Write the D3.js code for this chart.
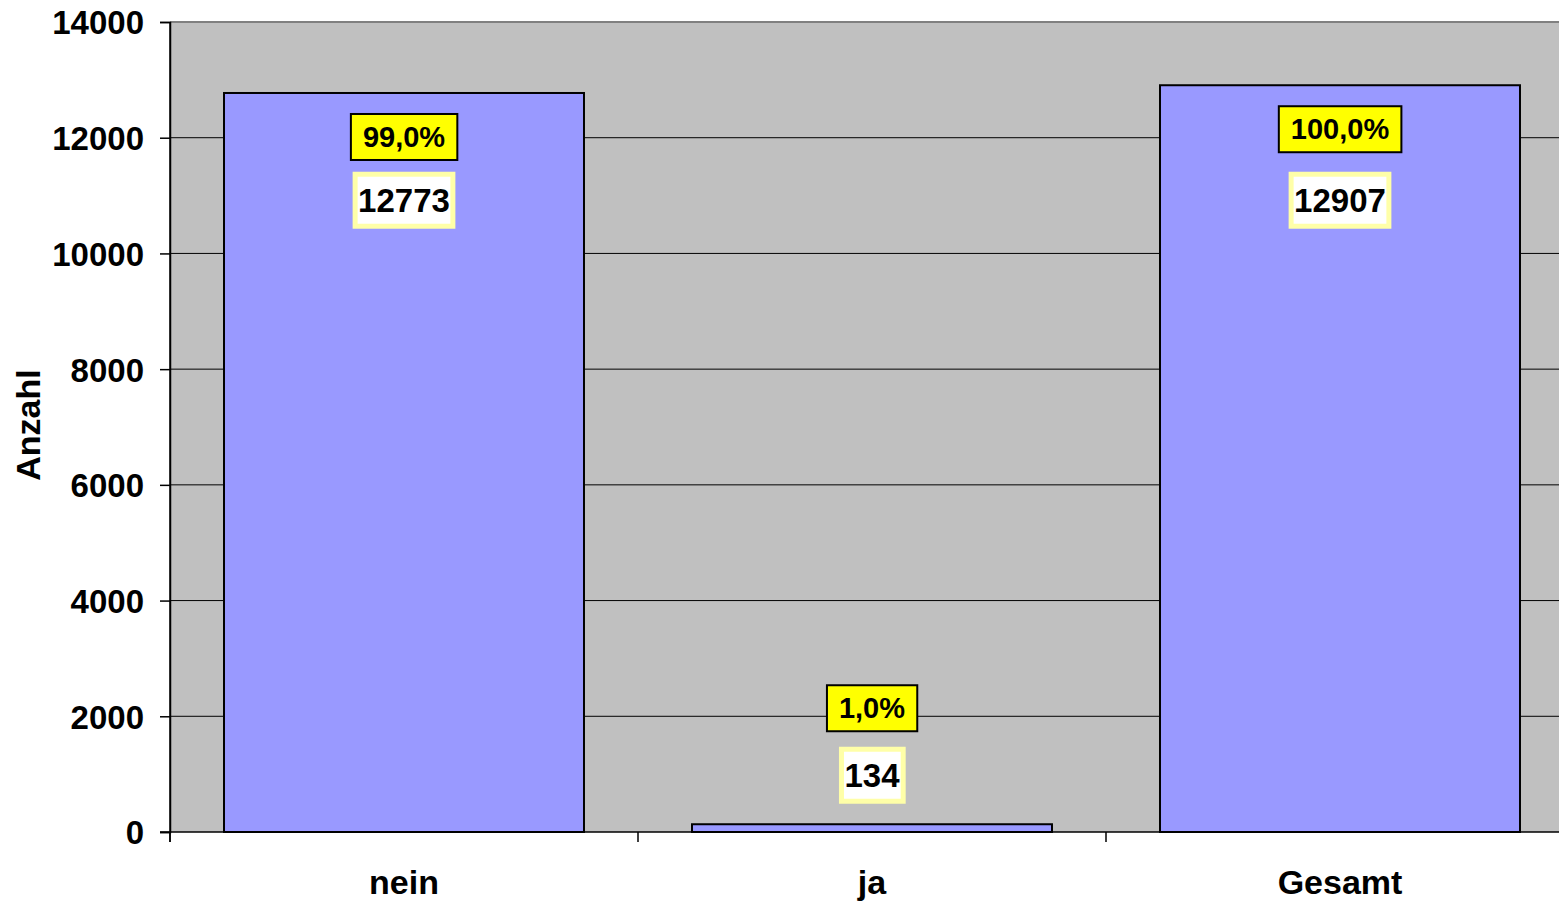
<!DOCTYPE html>
<html>
<head>
<meta charset="utf-8">
<script src="https://cdn.jsdelivr.net/npm/d3@7/dist/d3.min.js"></script>
<style>
  html, body { margin: 0; padding: 0; background: #ffffff; }
  svg { display: block; }
  text { font-family: "Liberation Sans", Arial, sans-serif; font-weight: bold; fill: #000; }
</style>
</head>
<body>
<svg id="chart" width="1559" height="901"></svg>
<script>
// Anzahl je Kategorie
const categories = ["nein", "ja", "Gesamt"];
const counts = [12773, 134, 12907];
const percentLabels = ["99,0%", "1,0%", "100,0%"];
const yTicks = [0, 2000, 4000, 6000, 8000, 10000, 12000, 14000];
const yTitle = "Anzahl";

const svg = d3.select("#chart");
const plot = { left: 170, top: 22, bottom: 832, right: 1574 };

const y = d3.scaleLinear().domain([0, 14000]).range([plot.bottom, plot.top]);
const x = d3.scaleBand()
  .domain(categories)
  .range([plot.left, plot.right])
  .paddingInner(0.2308)
  .paddingOuter(0.1154);

// plot background
svg.append("rect")
  .attr("x", plot.left).attr("y", plot.top)
  .attr("width", plot.right - plot.left).attr("height", plot.bottom - plot.top)
  .attr("fill", "#c0c0c0");

// horizontal gridlines
svg.append("g").selectAll("line")
  .data(yTicks.filter(t => t > 0 && t < 14000))
  .join("line")
  .attr("x1", plot.left).attr("x2", plot.right)
  .attr("y1", d => y(d)).attr("y2", d => y(d))
  .attr("stroke", "#000").attr("stroke-width", 1);

// top border of plot area
svg.append("line")
  .attr("x1", plot.left).attr("x2", plot.right)
  .attr("y1", y(14000)).attr("y2", y(14000))
  .attr("stroke", "#808080").attr("stroke-width", 2);

// bars
svg.append("g").selectAll("rect")
  .data(categories)
  .join("rect")
  .attr("x", d => x(d))
  .attr("y", (d, i) => y(counts[i]))
  .attr("width", x.bandwidth())
  .attr("height", (d, i) => y(0) - y(counts[i]))
  .attr("fill", "#9999ff")
  .attr("stroke", "#000")
  .attr("stroke-width", 2);

// y axis
const yAxis = d3.axisLeft(y).tickValues(yTicks).tickSize(10).tickPadding(16).tickFormat(d3.format("d"));
const gy = svg.append("g").attr("transform", `translate(${plot.left},0)`).call(yAxis);
gy.select(".domain").attr("stroke", "#000").attr("stroke-width", 1.5);
gy.selectAll(".tick line").attr("stroke", "#000").attr("stroke-width", 1.5);
gy.selectAll(".tick text").style("font-size", "33px").attr("dy", "0.36em");

// x axis baseline + category separators
svg.append("line")
  .attr("x1", plot.left - 10).attr("x2", plot.right)
  .attr("y1", y(0)).attr("y2", y(0))
  .attr("stroke", "#000").attr("stroke-width", 1.5);
svg.append("line")
  .attr("x1", plot.left).attr("x2", plot.left)
  .attr("y1", plot.top).attr("y2", y(0) + 10)
  .attr("stroke", "#000").attr("stroke-width", 1.5);
const step = x.step();
svg.append("g").selectAll("line")
  .data(categories)
  .join("line")
  .attr("x1", (d, i) => plot.left + i * step)
  .attr("x2", (d, i) => plot.left + i * step)
  .attr("y1", y(0)).attr("y2", y(0) + 10)
  .attr("stroke", "#000").attr("stroke-width", 1.5);

// category labels
svg.append("g").selectAll("text")
  .data(categories)
  .join("text")
  .attr("x", d => x(d) + x.bandwidth() / 2)
  .attr("y", 894)
  .attr("text-anchor", "middle")
  .style("font-size", "34px")
  .text(d => d);

// axis title
svg.append("text")
  .attr("transform", `translate(40,425) rotate(-90)`)
  .attr("text-anchor", "middle")
  .style("font-size", "34px")
  .text(yTitle);

// data labels: percent (yellow box) and count (white box)
const labels = svg.append("g");
const countRowY = y(d3.max(counts)) + 115;
categories.forEach((c, i) => {
  const cx = x(c) + x.bandwidth() / 2;
  const top = y(counts[i]);
  const inside = counts[i] > 2000;
  const pctY = inside ? top + 44 : top - 116;
  const valY = inside ? countRowY : top - 49;

  // percent label
  const pg = labels.append("g");
  const pt = pg.append("text")
    .attr("x", cx).attr("y", pctY)
    .attr("text-anchor", "middle").attr("dy", "0.35em")
    .style("font-size", "29px")
    .text(percentLabels[i]);
  const pb = pt.node().getBBox();
  pg.insert("rect", "text")
    .attr("x", pb.x - 12).attr("y", pctY - 23)
    .attr("width", pb.width + 24).attr("height", 46)
    .attr("fill", "#ffff00").attr("stroke", "#000").attr("stroke-width", 2);

  // count label
  const vg = labels.append("g");
  const vt = vg.append("text")
    .attr("x", cx).attr("y", valY)
    .attr("text-anchor", "middle").attr("dy", "0.36em")
    .style("font-size", "33px")
    .text(counts[i]);
  const vb = vt.node().getBBox();
  vg.insert("rect", "text")
    .attr("x", vb.x - 3).attr("y", valY - 26)
    .attr("width", vb.width + 6).attr("height", 52)
    .attr("fill", "#ffffff").attr("stroke", "#ffffa8").attr("stroke-width", 5);
});
</script>
</body>
</html>
